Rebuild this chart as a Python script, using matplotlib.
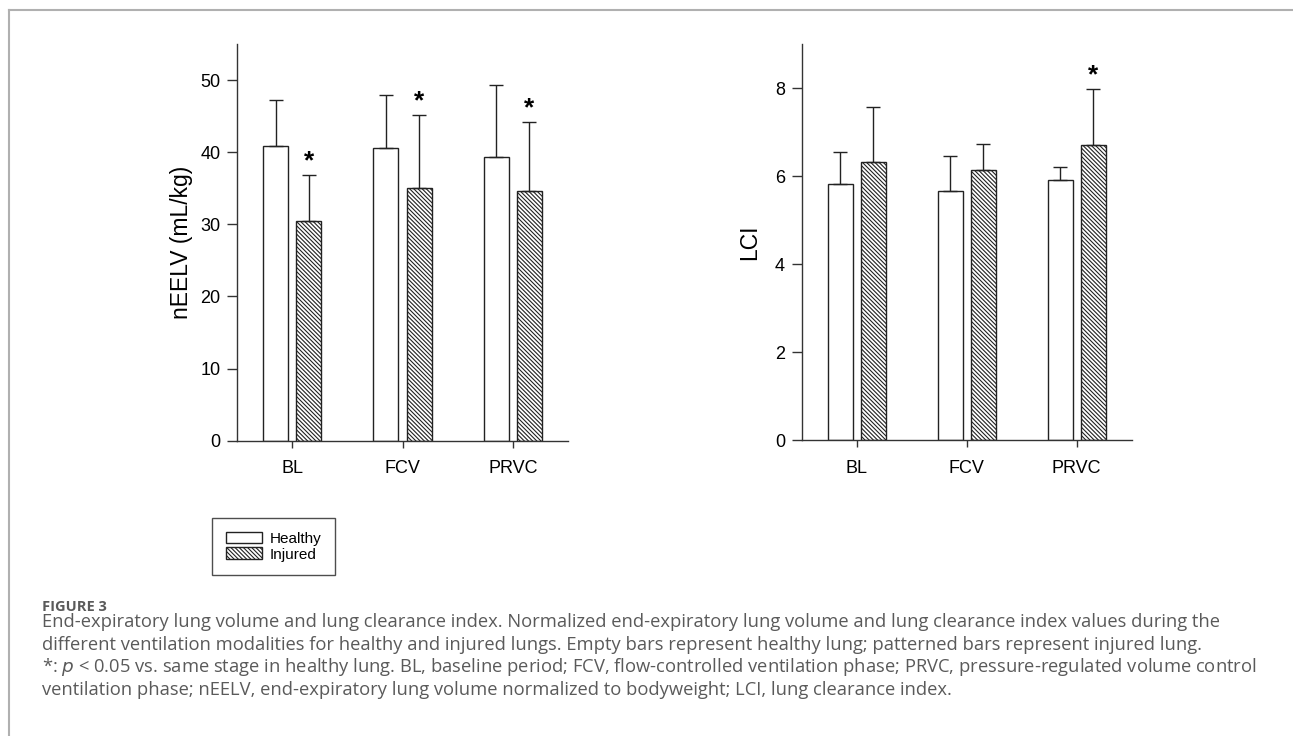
import matplotlib
matplotlib.use("Agg")
import matplotlib.pyplot as plt
import numpy as np
from matplotlib.lines import Line2D
from matplotlib.patches import Patch

stages = ["BL", "FCV", "PRVC"]

eelv_healthy = [40.8, 40.6, 39.4]
eelv_healthy_top = [47.2, 47.9, 49.3]
eelv_injured = [30.4, 35.0, 34.6]
eelv_injured_top = [36.8, 45.1, 44.2]
eelv_sig = [True, True, True]

lci_healthy = [5.81, 5.67, 5.92]
lci_healthy_top = [6.55, 6.45, 6.20]
lci_injured = [6.32, 6.14, 6.70]
lci_injured_top = [7.58, 6.73, 7.98]
lci_sig = [False, False, True]

caption_title = "FIGURE 3"
caption_lines = [
    "End-expiratory lung volume and lung clearance index. Normalized end-expiratory lung volume and lung clearance index values during the",
    "different ventilation modalities for healthy and injured lungs. Empty bars represent healthy lung; patterned bars represent injured lung.",
    "*: $\\it{p}$ < 0.05 vs. same stage in healthy lung. BL, baseline period; FCV, flow-controlled ventilation phase; PRVC, pressure-regulated volume control",
    "ventilation phase; nEELV, end-expiratory lung volume normalized to bodyweight; LCI, lung clearance index.",
]

plt.rcParams["font.family"] = ["Liberation Sans", "DejaVu Sans"]
plt.rcParams["hatch.linewidth"] = 0.8
plt.rcParams["hatch.color"] = "#222222"

W, H = 1293, 736
fig = plt.figure(figsize=(W / 100, H / 100), dpi=100)

HATCH = "\\" * 8
BW = 0.227
OFF = 0.15
EDGE = "#222222"


def panel(ax, healthy, htop, injured, itop, sig, ylabel, ylim, yticks, labelpad):
    x = np.arange(len(stages))
    ax.bar(x - OFF, healthy, BW, color="white", edgecolor=EDGE, linewidth=1.0)
    ax.bar(x + OFF, injured, BW, color="white", edgecolor=EDGE, linewidth=1.0,
           hatch=HATCH)
    hup = np.array(htop) - np.array(healthy)
    iup = np.array(itop) - np.array(injured)
    ax.errorbar(x - OFF, healthy, yerr=[np.zeros(3), hup], fmt="none",
                ecolor=EDGE, elinewidth=1.0, capsize=5, capthick=1.0)
    ax.errorbar(x + OFF, injured, yerr=[np.zeros(3), iup], fmt="none",
                ecolor=EDGE, elinewidth=1.0, capsize=5, capthick=1.0)
    for xi, top, s in zip(x + OFF, itop, sig):
        if s:
            ax.annotate("*", xy=(xi, top), xytext=(0, 10), textcoords="offset points",
                        ha="center", va="center", fontsize=19, fontweight="bold",
                        color="black")
    ax.set_xlim(-0.5, 2.5)
    ax.set_ylim(*ylim)
    ax.set_yticks(yticks)
    ax.set_xticks(x)
    ax.set_xticklabels(stages)
    ax.set_ylabel(ylabel, fontsize=16.5, labelpad=labelpad)
    for sp in ["top", "right"]:
        ax.spines[sp].set_visible(False)
    for sp in ["left", "bottom"]:
        ax.spines[sp].set_color("#333333")
        ax.spines[sp].set_linewidth(1.0)
    ax.tick_params(axis="y", direction="out", length=7, width=1.0, color="#333333",
                   labelsize=13, pad=5)
    ax.tick_params(axis="x", direction="out", length=5, width=1.0, color="#333333",
                   labelsize=13, pad=9)


ax1 = fig.add_axes([237 / W, (H - 440.7) / H, 331 / W, 396.7 / H])
panel(ax1, eelv_healthy, eelv_healthy_top, eelv_injured, eelv_injured_top, eelv_sig,
      "nEELV (mL/kg)", (0, 55), [0, 10, 20, 30, 40, 50], 5)

ax2 = fig.add_axes([801.7 / W, (H - 440.3) / H, 330 / W, 396.3 / H])
panel(ax2, lci_healthy, lci_healthy_top, lci_injured, lci_injured_top, lci_sig,
      "LCI", (0, 9), [0, 2, 4, 6, 8], 10)

handles = [Patch(facecolor="white", edgecolor=EDGE, linewidth=1.0, label="Healthy"),
           Patch(facecolor="white", edgecolor=EDGE, linewidth=1.0, hatch=HATCH,
                 label="Injured")]
leg = fig.legend(handles=handles, loc="upper left",
                 bbox_to_anchor=(212 / W, (H - 518) / H), fontsize=11,
                 frameon=True, fancybox=False, handlelength=2.35, handleheight=0.8,
                 handletextpad=0.5, labelspacing=0.1, borderpad=0.9,
                 borderaxespad=0)
leg.get_frame().set_edgecolor("#222222")
leg.get_frame().set_linewidth(1.0)

# figure border (top and left only)
fig.add_artist(Line2D([9 / W, 1.0], [(H - 10) / H, (H - 10) / H], color="#b0b0b0",
                      lw=1.5, transform=fig.transFigure))
fig.add_artist(Line2D([9 / W, 9 / W], [0, (H - 10) / H], color="#b0b0b0",
                      lw=1.5, transform=fig.transFigure))

fig.text(42 / W, (H - 607) / H, caption_title, fontsize=10.5, fontweight="bold",
         color="#5a5a5a", family=["Open Sans", "DejaVu Sans"], va="center")
for i, line in enumerate(caption_lines):
    fig.text(42 / W, (H - 627 - 22.7 * i) / H, line, fontsize=13.2, color="#5a5a5a",
             family=["Open Sans", "DejaVu Sans"], va="baseline")

fig.savefig("out.png", dpi=100)
